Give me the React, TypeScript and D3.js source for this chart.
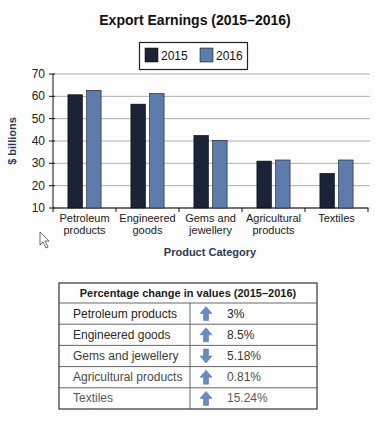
import React from "react";
import * as d3 from "d3";

const categories = [
  ["Petroleum", "products"],
  ["Engineered", "goods"],
  ["Gems and", "jewellery"],
  ["Agricultural", "products"],
  ["Textiles"],
];
const series2015 = [60.7, 56.5, 42.5, 31.0, 25.5];
const series2016 = [62.7, 61.3, 40.3, 31.5, 31.5];
const yTicks = [10, 20, 30, 40, 50, 60, 70];
const tableRows = [
  "Petroleum products",
  "Engineered goods",
  "Gems and jewellery",
  "Agricultural products",
  "Textiles",
];
const tableChanges = ["3%", "8.5%", "5.18%", "0.81%", "15.24%"];
const tableUp = [true, true, false, true, true];

const FONT = "Liberation Sans, Arial, sans-serif";
const C2015 = "#1b2436";
const C2016 = "#5e7cab";

export default function App() {
  const W = 375, H = 425;
  const x0 = 53, x1 = 368;
  const yTop = 74, yBot = 208;
  const y = d3.scaleLinear().domain([10, 70]).range([yBot, yTop]);
  const idx = categories.map((_, i) => String(i));
  const xb = d3.scaleBand().domain(idx).range([x0, x1]);
  const inner = d3.scaleBand().domain(["2015", "2016"]).range([0, xb.bandwidth()]).paddingInner(0.22).paddingOuter(0.8);

  const tX0 = 59, tX1 = 317, tY0 = 283, headerH = 20;
  const rowY = d3.scaleBand().domain(tableRows.map((_, i) => String(i))).range([tY0 + headerH, 409]);
  const colDiv = 190;
  const rowColors = ["#222", "#2c2c2c", "#3a3a3a", "#4a4a4a", "#5a5a5a"];

  const arrow = (cx: number, cy: number, up: boolean) => {
    const s = up ? 1 : -1;
    const pts: [number, number][] = [
      [0, -7], [6, 0], [2.5, 0], [2.5, 7], [-2.5, 7], [-2.5, 0], [-6, 0],
    ];
    return pts.map(([a, b]) => `${cx + a},${cy + s * b}`).join(" ");
  };

  return (
    <svg width={W} height={H} style={{ position: "absolute", left: 0, top: 0, background: "#fff" }} fontFamily={FONT}>
      <rect x={0} y={0} width={W} height={H} fill="#fdfdfd" />
      <text x={195} y={25} textAnchor="middle" fontSize={14} fontWeight="bold" fill="#111">
        Export Earnings (2015–2016)
      </text>
      {/* legend */}
      <rect x={139.5} y={42.5} width={108} height={27} fill="#fff" stroke="#222" strokeWidth={1.2} />
      <rect x={145} y={48} width={13} height={14} fill={C2015} stroke="#000" strokeWidth={0.5} />
      <text x={161} y={60} fontSize={12} fill="#111">2015</text>
      <rect x={200} y={48} width={13} height={14} fill={C2016} stroke="#000" strokeWidth={0.5} />
      <text x={216} y={60} fontSize={12} fill="#111">2016</text>

      {/* gridlines */}
      {yTicks.map((t) => (
        <line key={t} x1={x0} x2={370} y1={y(t)} y2={y(t)} stroke="#9a9a9a" strokeWidth={0.8} />
      ))}
      {/* y axis */}
      <line x1={x0} x2={x0} y1={yTop} y2={yBot} stroke="#111" strokeWidth={1} />
      {yTicks.map((t) => (
        <g key={"yt" + t}>
          <line x1={x0 - 4} x2={x0 + 2} y1={y(t)} y2={y(t)} stroke="#111" />
          <text x={45} y={y(t) + 4} textAnchor="end" fontSize={12} fill="#222">{t}</text>
        </g>
      ))}
      <text transform={`translate(16,${(yTop + yBot) / 2}) rotate(-90)`} textAnchor="middle" fontSize={11} fontWeight="bold" fill="#2b3a5c">
        $ billions
      </text>
      {/* x axis */}
      <line x1={x0} x2={x1} y1={yBot} y2={yBot} stroke="#111" />
      {idx.concat([String(idx.length)]).map((k, i) => {
        const xx = i < idx.length ? (xb(k) as number) : x1;
        return <line key={"xt" + i} x1={xx} x2={xx} y1={yBot} y2={yBot + 4} stroke="#111" />;
      })}
      {/* bars */}
      {idx.map((k, i) => (
        <g key={"b" + i}>
          <rect x={(xb(k) as number) + (inner("2015") as number)} y={y(series2015[i])} width={inner.bandwidth()} height={yBot - y(series2015[i])} fill={C2015} stroke="#000" strokeWidth={0.6} />
          <rect x={(xb(k) as number) + (inner("2016") as number)} y={y(series2016[i])} width={inner.bandwidth()} height={yBot - y(series2016[i])} fill={C2016} stroke="#1a1a1a" strokeWidth={0.6} />
        </g>
      ))}
      {/* category labels */}
      {idx.map((k, i) => (
        <text key={"cl" + i} x={(xb(k) as number) + xb.bandwidth() / 2} y={222} textAnchor="middle" fontSize={11} fill="#1a1a1a">
          {categories[i].map((ln, j) => (
            <tspan key={j} x={(xb(k) as number) + xb.bandwidth() / 2} dy={j === 0 ? 0 : 12}>{ln}</tspan>
          ))}
        </text>
      ))}
      <text x={210} y={256} textAnchor="middle" fontSize={11} fontWeight="bold" fill="#2b3a5c">Product Category</text>

      {/* cursor */}
      <path d="M40,232 L40,245 L43,242 L46,248 L48,247 L45,241 L49,241 Z" fill="#fff" stroke="#444" strokeWidth={0.8} />

      {/* table */}
      <rect x={tX0} y={tY0} width={tX1 - tX0} height={409 - tY0} fill="#fff" stroke="#333" strokeWidth={1.2} />
      <text x={(tX0 + tX1) / 2} y={tY0 + 14} textAnchor="middle" fontSize={11} fontWeight="bold" fill="#1a1a1a">
        Percentage change in values (2015–2016)
      </text>
      {tableRows.map((r, i) => {
        const ry = rowY(String(i)) as number;
        const rh = rowY.bandwidth();
        return (
          <g key={"tr" + i}>
            <line x1={tX0} x2={tX1} y1={ry} y2={ry} stroke="#555" strokeWidth={0.9} />
            <text x={73} y={ry + rh / 2 + 4} fontSize={12} fill={rowColors[i]}>{r}</text>
            <polygon points={arrow(206, ry + rh / 2, tableUp[i])} fill="#6a8bc2" stroke="#4e6a9a" strokeWidth={0.5} />
            <text x={227} y={ry + rh / 2 + 4} fontSize={12} fill={rowColors[i]}>{tableChanges[i]}</text>
          </g>
        );
      })}
      <line x1={colDiv} x2={colDiv} y1={tY0 + headerH} y2={409} stroke="#555" strokeWidth={0.9} />
    </svg>
  );
}
